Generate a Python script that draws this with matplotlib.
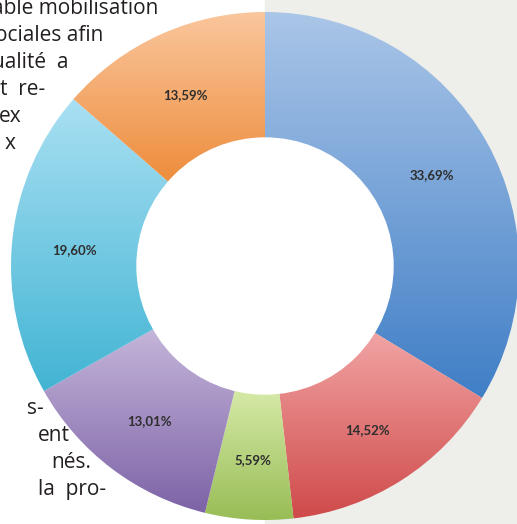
import numpy as np
import matplotlib.pyplot as plt
from matplotlib.patches import Wedge, Circle, Rectangle
from matplotlib.colors import to_rgb

# share of each category, clockwise from 12 o'clock
shares = [33.69, 14.52, 5.59, 13.01, 19.60, 13.59]
labels = ['33,69%', '14,52%', '5,59%', '13,01%', '19,60%', '13,59%']

# light (top) / dark (bottom) ends of each slice gradient
top_colors = ['#abc6e8', '#f2a5a5', '#d7eaa9', '#c5b6da', '#aae0f3', '#fac79e']
bottom_colors = ['#3f7ec6', '#cf4949', '#97bc54', '#7c62a6', '#41b4d3', '#ee8c3b']

# fragments of the surrounding article text
text_top = ['able mobilisation', 'ociales afin', 'ualité  a', 't  re-', 'ex', 'x']
text_bottom = ['s-', 'ent', 'nés.', 'la  pro-']

W, H = 517, 524
cx, cy = 265, 266
r_out, r_in = 254, 128


def gradient(c_top, c_bot, n=256):
    t = np.linspace(0, 1, n)[:, None]
    a, b = np.array(to_rgb(c_top)), np.array(to_rgb(c_bot))
    return (a * (1 - t) + b * t)[:, None, :]


fig = plt.figure(figsize=(W / 100, H / 100), dpi=100)
ax = fig.add_axes([0, 0, 1, 1])
ax.axis('off')

# grey page column on the right
ax.add_patch(Rectangle((cx, 0), W - cx, H, color='#eeeeea', zorder=0))

fracs = np.array(shares) / sum(shares)
starts = np.concatenate([[0], np.cumsum(fracs)[:-1]])
for i, (f, s0) in enumerate(zip(fracs, starts)):
    # y axis points down, so increasing angle runs clockwise on screen
    t1 = -90 + 360 * s0
    t2 = -90 + 360 * (s0 + f)
    w = Wedge((cx, cy), r_out, t1, t2, facecolor='none', edgecolor='none')
    ax.add_patch(w)
    ang = np.radians(np.linspace(t1, t2, 200))
    ys = np.concatenate([cy + r_out * np.sin(ang), cy + r_in * np.sin(ang)])
    xs = np.concatenate([cx + r_out * np.cos(ang), cx + r_in * np.cos(ang)])
    im = ax.imshow(gradient(top_colors[i], bottom_colors[i]),
                   extent=(xs.min() - 2, xs.max() + 2, ys.max() + 2, ys.min() - 2),
                   aspect='auto', interpolation='bilinear', zorder=1)
    im.set_clip_path(w)

    mid = np.radians((t1 + t2) / 2)
    r_mid = (r_out + r_in) / 2
    ax.text(cx + r_mid * np.cos(mid), cy + r_mid * np.sin(mid) + 3, labels[i],
            ha='center', va='center', fontsize=9.5, fontweight='bold',
            family='Lato', color='#2e2e2e', zorder=3)

ax.add_patch(Circle((cx, cy), r_in, color='white', zorder=2))

# article text wrapping around the chart
top_ends = [158, 103, 68, 45, 22, 15]
for k, (s, xe) in enumerate(zip(text_top, top_ends)):
    ax.text(xe, 14 + 27 * k, s, ha='right', va='baseline', fontsize=15,
            family='Open Sans', color='#231f20', zorder=4)
bottom_ends = [44, 70, 91, 106]
for k, (s, xe) in enumerate(zip(text_bottom, bottom_ends)):
    ax.text(xe, 414 + 27 * k, s, ha='right', va='baseline', fontsize=15,
            family='Open Sans', color='#231f20', zorder=4)

ax.set_xlim(0, W)
ax.set_ylim(H, 0)
fig.savefig('out.png', dpi=100, facecolor='white')
